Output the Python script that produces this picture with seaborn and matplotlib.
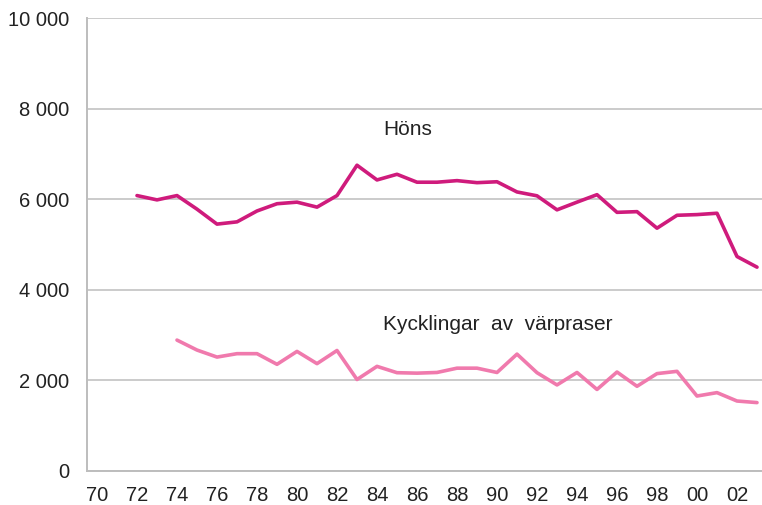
import numpy as np
import pandas as pd
import matplotlib
matplotlib.use('Agg')
import matplotlib.pyplot as plt
import matplotlib.ticker as mticker
import seaborn as sns

# Data (antal, tusental)
years_hons = list(range(1972, 2004))
hons = [6080, 5985, 6080, 5780, 5450, 5500, 5740, 5900, 5935, 5825,
        6080, 6750, 6425, 6550, 6375, 6375, 6410, 6365, 6385, 6160,
        6075, 5765, 5935, 6100, 5710, 5725, 5360, 5645, 5660, 5690,
        4735, 4500]

years_kyck = list(range(1974, 2004))
kycklingar = [2890, 2670, 2515, 2590, 2590, 2355, 2640, 2370, 2660, 2020,
              2310, 2170, 2160, 2175, 2270, 2270, 2175, 2580, 2170, 1900,
              2175, 1800, 2185, 1870, 2150, 2200, 1655, 1730, 1545, 1510]

label_hons = 'Höns'
label_kyck = 'Kycklingar av värpraser'

df = pd.concat([
    pd.DataFrame({'År': years_hons, 'Antal': hons, 'Serie': label_hons}),
    pd.DataFrame({'År': years_kyck, 'Antal': kycklingar, 'Serie': label_kyck}),
])

sns.set_style('white')
plt.rcParams['font.family'] = ['Liberation Sans', 'DejaVu Sans']
plt.rcParams['font.size'] = 14.5

grey = '#bdbdbd'
fig = plt.figure(figsize=(7.62, 5.05), dpi=100)
ax = fig.add_axes([87 / 762, 34 / 505, 675 / 762, 453 / 505])

sns.lineplot(data=df, x='År', y='Antal', hue='Serie',
             palette={label_hons: '#cf1b7c', label_kyck: '#f07aad'},
             linewidth=2.6, legend=False, ax=ax)

ax.set_xlim(1969.5, 2003.25)
ax.set_ylim(0, 10000)

# y axis
ax.yaxis.set_major_locator(mticker.MultipleLocator(2000))
ax.yaxis.set_major_formatter(mticker.FuncFormatter(lambda v, p: f'{int(v):,}'.replace(',', ' ')))
ax.grid(axis='y', color=grey, linewidth=1.1)
ax.tick_params(axis='y', length=5, width=1.1, color=grey, pad=8, labelcolor='#222222')

# x axis: labels every second year, tick marks between years
ax.xaxis.set_major_locator(mticker.MultipleLocator(2))
ax.xaxis.set_major_formatter(mticker.FuncFormatter(lambda v, p: f'{int(v) % 100:02d}'))
ax.xaxis.set_minor_locator(mticker.FixedLocator(np.arange(1970.5, 2004, 1)))
ax.tick_params(axis='x', which='major', length=0, pad=11, labelcolor='#222222')
ax.tick_params(axis='x', which='minor', direction='in', length=7, width=1.1, color=grey)

for side in ['top', 'right']:
    ax.spines[side].set_visible(False)
for side in ['left', 'bottom']:
    ax.spines[side].set_color(grey)
    ax.spines[side].set_linewidth(1.4)

ax.set_xlabel('')
ax.set_ylabel('')

ax.text(1984.3, 7540, label_hons, fontsize=15, color='#222222', va='center')
ax.text(1984.3, 3230, 'Kycklingar  av  värpraser', fontsize=15, color='#222222', va='center')

fig.savefig('out.png', dpi=100)
